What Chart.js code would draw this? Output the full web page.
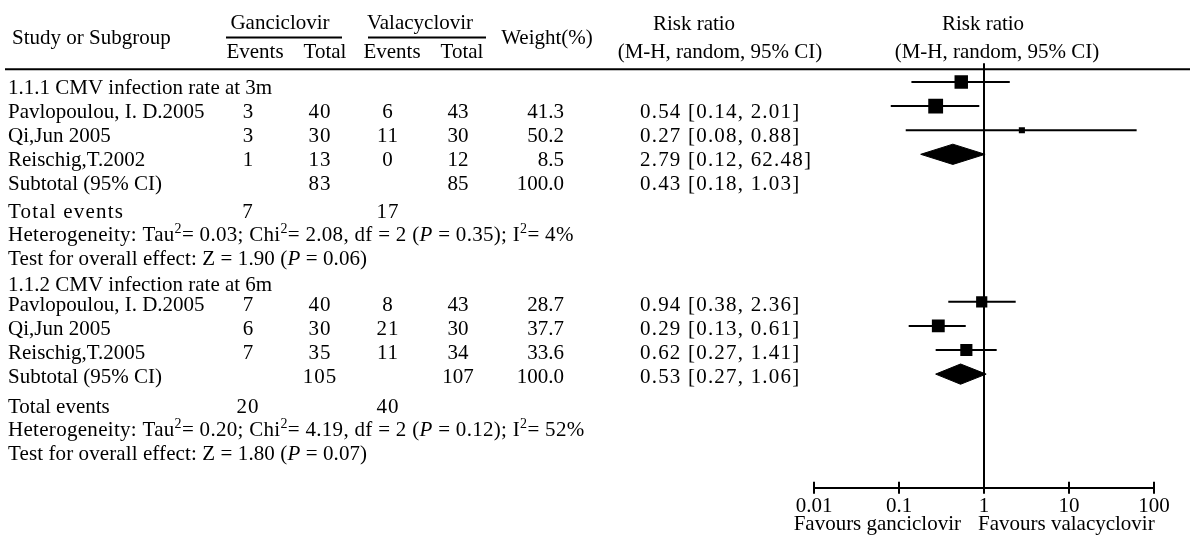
<!DOCTYPE html>
<html><head><meta charset="utf-8">
<script src="https://cdn.jsdelivr.net/npm/chart.js@4/dist/chart.umd.min.js"></script>
<style>html,body{margin:0;padding:0;background:#fff;}#wrap{width:1192px;height:537px;}</style>
</head><body><div id="wrap"><canvas id="c" width="1192" height="537"></canvas></div>
<script>
// ---------- data ----------
const groupTitles = ["1.1.1 CMV infection rate at 3m", "1.1.2 CMV infection rate at 6m"];
const studies1   = ["Pavlopoulou, I. D.2005", "Qi,Jun 2005", "Reischig,T.2002"];
const ganEvents1 = [3, 3, 1];
const ganTotal1  = [40, 30, 13];
const valEvents1 = [6, 11, 0];
const valTotal1  = [43, 30, 12];
const weight1    = [41.3, 50.2, 8.5];
const rr1        = [0.54, 0.27, 2.79];
const lo1        = [0.14, 0.08, 0.12];
const hi1        = [2.01, 0.88, 62.48];
const subTotals1 = [83, 85, 100.0];        // ganciclovir total, valacyclovir total, weight
const subRR1     = [0.43, 0.18, 1.03];     // rr, lower, upper
const totEvents1 = [7, 17];
const het1       = ["0.03", "2.08", 2, "0.35", 4];  // Tau2, Chi2, df, P, I2
const test1      = ["1.90", "0.06"];               // Z, P

const studies2   = ["Pavlopoulou, I. D.2005", "Qi,Jun 2005", "Reischig,T.2005"];
const ganEvents2 = [7, 6, 7];
const ganTotal2  = [40, 30, 35];
const valEvents2 = [8, 21, 11];
const valTotal2  = [43, 30, 34];
const weight2    = [28.7, 37.7, 33.6];
const rr2        = [0.94, 0.29, 0.62];
const lo2        = [0.38, 0.13, 0.27];
const hi2        = [2.36, 0.61, 1.41];
const subTotals2 = [105, 107, 100.0];
const subRR2     = [0.53, 0.27, 1.06];
const totEvents2 = [20, 40];
const het2       = ["0.20", "4.19", 2, "0.12", 52];
const test2      = ["1.80", "0.07"];

const xTicks      = [0.01, 0.1, 1, 10, 100];
const xTickLabels = ["0.01", "0.1", "1", "10", "100"];
const favours     = ["Favours ganciclovir", "Favours valacyclovir"];

// ---------- layout (row units) ----------
const groups = [
  {title: groupTitles[0], studies: studies1, ge: ganEvents1, gt: ganTotal1, ve: valEvents1, vt: valTotal1, w: weight1,
   rr: rr1, lo: lo1, hi: hi1, sub: subTotals1, subRR: subRR1, tot: totEvents1, het: het1, test: test1,
   base: 0, headShift: 0, tailShift: 0, markShift: -1.17, totSpacing: 1.2},
  {title: groupTitles[1], studies: studies2, ge: ganEvents2, gt: ganTotal2, ve: valEvents2, vt: valTotal2, w: weight2,
   rr: rr2, lo: lo2, hi: hi2, sub: subTotals2, subRR: subRR2, tot: totEvents2, het: het2, test: test2,
   base: 8, headShift: 0.2, tailShift: 0.12, markShift: -0.05, totSpacing: 0}
];
const R = {head: 0, study: i => 1 + i, sub: 4, tot: 5.15, het: 6.1, test: 7.1};
const FONT = '"Liberation Serif", "Times New Roman", serif';
const fnt = (sz, st) => (st ? st + ' ' : '') + sz + 'px ' + FONT;
const TEXT_DY = 2;

// ---------- datasets ----------
const datasets = [];
groups.forEach(g => {
  g.rr.forEach((v, i) => {
    const y = g.base + R.study(i) + g.markShift;
    datasets.push({type: 'line', data: [{x: g.lo[i], y}, {x: g.hi[i], y}], borderColor: '#000', borderWidth: 2,
      pointRadius: 0, fill: false});
  });
  datasets.push({type: 'scatter', data: g.rr.map((v, i) => ({x: v, y: g.base + R.study(i) + g.markShift})),
    pointStyle: 'rect', pointRadius: g.w.map(w => 1.48 * Math.sqrt(w)), backgroundColor: '#000', borderWidth: 0});
  const yd = g.base + R.sub + g.markShift, h = 0.42;
  datasets.push({type: 'line', data: [
      {x: g.subRR[1], y: yd}, {x: g.subRR[0], y: yd - h}, {x: g.subRR[2], y: yd}, {x: g.subRR[0], y: yd + h}, {x: g.subRR[1], y: yd}],
    borderColor: '#000', backgroundColor: '#000', borderWidth: 1, pointRadius: 0, fill: 'shape'});
});
// line of no effect
datasets.push({type: 'line', data: [{x: 1, y: -0.95}, {x: 1, y: 16.667}], borderColor: '#000', borderWidth: 2,
  pointRadius: 0, fill: false, clip: false});

// ---------- table plugin ----------
const tablePlugin = {
  id: 'table',
  afterDraw(chart) {
    const ctx = chart.ctx, ys = chart.scales.y, xs = chart.scales.x, ca = chart.chartArea;
    const Y = r => ys.getPixelForValue(r) + TEXT_DY;
    ctx.save();
    ctx.fillStyle = '#000'; ctx.strokeStyle = '#000'; ctx.textBaseline = 'middle';
    const txt = (s, x, y, align, sp) => {
      ctx.font = fnt(21); ctx.textAlign = align || 'left';
      ctx.letterSpacing = (sp || 0) + 'px';
      ctx.fillText(String(s), x, y);
      ctx.letterSpacing = '0px';
    };
    const line = (x1, y1, x2, y2, w) => {
      ctx.lineWidth = w; ctx.beginPath(); ctx.moveTo(x1, y1); ctx.lineTo(x2, y2); ctx.stroke();
    };
    const rich = (runs, x, y, sp) => {
      ctx.textAlign = 'left';
      ctx.letterSpacing = (sp || 0) + 'px';
      runs.forEach(([s, st]) => {
        if (st === 'sup') { ctx.font = fnt(14); ctx.fillText(s, x, y - 6); }
        else { ctx.font = fnt(21, st === 'i' ? 'italic' : ''); ctx.fillText(s, x, y); }
        x += ctx.measureText(s).width;
      });
      ctx.letterSpacing = '0px';
    };
    // header
    txt('Study or Subgroup', 12, Y(-2.05));
    txt('Ganciclovir', 280, Y(-2.67), 'center');
    txt('Valacyclovir', 420, Y(-2.67), 'center');
    line(226, ys.getPixelForValue(-2.02), 342, ys.getPixelForValue(-2.02), 2);
    line(368, ys.getPixelForValue(-2.02), 486, ys.getPixelForValue(-2.02), 2);
    txt('Events', 255, Y(-1.47), 'center');
    txt('Total', 325, Y(-1.47), 'center');
    txt('Events', 392, Y(-1.47), 'center');
    txt('Total', 462, Y(-1.47), 'center');
    txt('Weight(%)', 547, Y(-2.05), 'center');
    txt('Risk ratio', 694, Y(-2.63), 'center');
    txt('(M-H, random, 95% CI)', 720, Y(-1.47), 'center');
    const x1 = xs.getPixelForValue(1);
    txt('Risk ratio', x1 - 1, Y(-2.63), 'center');
    txt('(M-H, random, 95% CI)', x1 + 13, Y(-1.47), 'center');
    line(5, ys.getPixelForValue(-0.7), 1190, ys.getPixelForValue(-0.7), 2);

    const ci = (a, b, c) => a.toFixed(2) + ' [' + b.toFixed(2) + ', ' + c.toFixed(2) + ']';
    groups.forEach(g => {
      const b = g.base;
      txt(g.title, 8, Y(b + R.head + g.headShift));
      g.studies.forEach((s, i) => {
        const y = Y(b + R.study(i));
        txt(s, 8, y);
        txt(g.ge[i], 248, y, 'center');
        txt(g.gt[i], 320, y, 'center', 1);
        txt(g.ve[i], 388, y, 'center', 1);
        txt(g.vt[i], 458, y, 'center');
        txt(g.w[i].toFixed(1), 564, y, 'right');
        txt(ci(g.rr[i], g.lo[i], g.hi[i]), 640, y, 'left', 1.2);
      });
      const ysub = Y(b + R.sub);
      txt('Subtotal (95% CI)', 8, ysub);
      txt(g.sub[0], 320, ysub, 'center', 1);
      txt(g.sub[1], 458, ysub, 'center');
      txt(g.sub[2].toFixed(1), 564, ysub, 'right');
      txt(ci(g.subRR[0], g.subRR[1], g.subRR[2]), 640, ysub, 'left', 1.2);
      const yt = Y(b + R.tot + g.tailShift);
      txt('Total events', 8, yt, 'left', g.totSpacing);
      txt(g.tot[0], 248, yt, 'center', 1);
      txt(g.tot[1], 388, yt, 'center', 1);
      rich([['Heterogeneity: Tau', ''], ['2', 'sup'], ['= ' + g.het[0] + '; Chi', ''], ['2', 'sup'],
            ['= ' + g.het[1] + ', df = ' + g.het[2] + ' (', ''], ['P', 'i'], [' = ' + g.het[3] + '); I', ''], ['2', 'sup'],
            ['= ' + g.het[4] + '%', '']], 8, Y(b + R.het + g.tailShift), 0.3);
      rich([['Test for overall effect: Z = ' + g.test[0] + ' (', ''], ['P', 'i'], [' = ' + g.test[1] + ')', '']], 8,
           Y(b + R.test + g.tailShift), 0.1);
    });
    // upward part of axis ticks
    xTicks.forEach(v => { const x = xs.getPixelForValue(v); line(x, ca.bottom - 6, x, ca.bottom, 2); });
    // favours labels
    const yf = ca.bottom + 37;
    txt(favours[0], x1 - 23, yf, 'right');
    txt(favours[1], x1 - 6, yf, 'left');
    ctx.restore();
  }
};

new Chart(document.getElementById('c'), {
  type: 'scatter',
  data: {datasets},
  options: {
    responsive: false, animation: false, devicePixelRatio: 1,
    layout: {padding: {left: 814, right: 38, top: 60, bottom: 18}},
    plugins: {legend: {display: false}, tooltip: {enabled: false}},
    elements: {line: {tension: 0}},
    scales: {
      x: {
        type: 'logarithmic', min: 0.01, max: 100,
        afterBuildTicks: s => { s.ticks = xTicks.map(v => ({value: v})); },
        ticks: {autoSkip: false, maxRotation: 0, padding: 0, color: '#000',
          font: {family: FONT, size: 21},
          callback: v => xTickLabels[xTicks.indexOf(v)]},
        grid: {drawOnChartArea: false, drawTicks: true, tickLength: 6, color: '#000', lineWidth: 2},
        border: {display: true, color: '#000', width: 2}
      },
      y: {type: 'linear', display: false, reverse: true, min: -1.083, max: 16.667}
    }
  },
  plugins: [tablePlugin]
});
</script>
</body></html>
